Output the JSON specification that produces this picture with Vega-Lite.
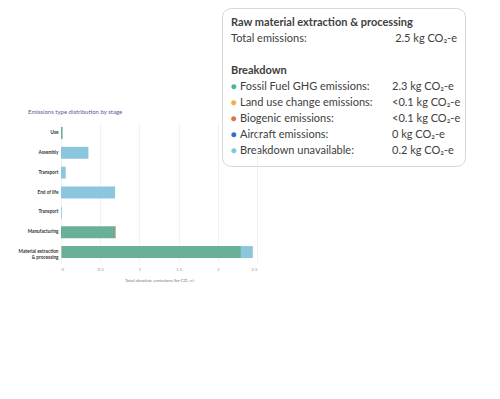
{
  "$schema": "https://vega.github.io/schema/vega-lite/v6.json",
  "background": "white",
  "padding": {"left": 0, "top": 7, "right": 0, "bottom": 0},
  "config": {"view": {"stroke": null}, "font": "Lato"},
  "datasets": {
    "bars": [
      {"stage": "Use", "type": "Fossil Fuel GHG emissions", "kg": 0.02},
      {"stage": "Assembly", "type": "Breakdown unavailable", "kg": 0.35},
      {"stage": "Transport", "type": "Breakdown unavailable", "kg": 0.06},
      {"stage": "End of life", "type": "Breakdown unavailable", "kg": 0.69},
      {"stage": "Transport ", "type": "Breakdown unavailable", "kg": 0.01},
      {"stage": "Manufacturing", "type": "Fossil Fuel GHG emissions", "kg": 0.69},
      {"stage": "Manufacturing", "type": "Biogenic emissions", "kg": 0.01},
      {"stage": "Material extraction & processing", "type": "Fossil Fuel GHG emissions", "kg": 2.29},
      {"stage": "Material extraction & processing", "type": "Land use change emissions", "kg": 0.005},
      {"stage": "Material extraction & processing", "type": "Biogenic emissions", "kg": 0.005},
      {"stage": "Material extraction & processing", "type": "Breakdown unavailable", "kg": 0.15}
    ],
    "tip": [
      {"row": 1, "kind": "title", "label": "Raw material extraction & processing"},
      {"row": 2, "kind": "total", "label": "Total emissions:", "value": "2.5 kg CO₂-e"},
      {"row": 4, "kind": "heading", "label": "Breakdown"},
      {"row": 5, "kind": "item", "type": "Fossil Fuel GHG emissions", "label": "Fossil Fuel GHG emissions:", "value": "2.3 kg CO₂-e"},
      {"row": 6, "kind": "item", "type": "Land use change emissions", "label": "Land use change emissions:", "value": "<0.1 kg CO₂-e"},
      {"row": 7, "kind": "item", "type": "Biogenic emissions", "label": "Biogenic emissions:", "value": "<0.1 kg CO₂-e"},
      {"row": 8, "kind": "item", "type": "Aircraft emissions", "label": "Aircraft emissions:", "value": "0 kg CO₂-e"},
      {"row": 9, "kind": "item", "type": "Breakdown unavailable", "label": "Breakdown unavailable:", "value": "0.2 kg CO₂-e"}
    ]
  },
  "resolve": {"scale": {"color": "independent", "x": "independent", "y": "independent"}},
  "align": "none",
  "spacing": -58,
  "vconcat": [
    {
      "spacing": 0,
      "align": "none",
      "hconcat": [
        {
          "width": 160,
          "height": 158,
          "data": {"values": []},
          "mark": "point",
          "encoding": {}
        },
        {
          "width": 243,
          "height": 158,
          "view": {"stroke": "#d6d6d6", "fill": "white", "cornerRadius": 9, "strokeWidth": 1},
          "data": {"name": "tip"},
          "encoding": {
            "y": {"field": "row", "type": "ordinal", "scale": {"type": "point", "domain": [1, 2, 3, 4, 5, 6, 7, 8, 9], "range": [15, 143], "padding": 0}, "axis": null},
            "x": {"datum": "left", "type": "nominal", "scale": {"type": "point", "domain": ["left", "right"], "range": [9, 235], "padding": 0}, "axis": null}
          },
          "layer": [
            {
              "transform": [{"filter": "datum.kind == 'title' || datum.kind == 'heading'"}],
              "mark": {"type": "text", "align": "left", "baseline": "middle", "fontWeight": "bold", "fontSize": 11, "color": "#404040"},
              "encoding": {"text": {"field": "label"}}
            },
            {
              "transform": [{"filter": "datum.kind == 'total'"}],
              "mark": {"type": "text", "align": "left", "baseline": "middle", "fontSize": 11, "color": "#404040"},
              "encoding": {"text": {"field": "label"}}
            },
            {
              "transform": [{"filter": "datum.kind == 'total'"}],
              "mark": {"type": "text", "align": "right", "baseline": "middle", "fontSize": 11, "color": "#404040"},
              "encoding": {"text": {"field": "value"}, "x": {"datum": "right", "type": "nominal"}}
            },
            {
              "transform": [{"filter": "datum.kind == 'item'"}],
              "mark": {"type": "text", "align": "left", "baseline": "middle", "fontSize": 10, "dx": -0.5},
              "encoding": {
                "text": {"value": "●"},
                "color": {"field": "type", "type": "nominal", "legend": null,
                  "scale": {"domain": ["Fossil Fuel GHG emissions", "Land use change emissions", "Biogenic emissions", "Aircraft emissions", "Breakdown unavailable"],
                            "range": ["#4fb39b", "#e9b43c", "#df7443", "#2f6fc6", "#7cc8e4"]}}
              }
            },
            {
              "transform": [{"filter": "datum.kind == 'item'"}],
              "mark": {"type": "text", "align": "left", "baseline": "middle", "fontSize": 11, "dx": 9, "color": "#404040"},
              "encoding": {"text": {"field": "label"}}
            },
            {
              "transform": [{"filter": "datum.kind == 'item'"}],
              "mark": {"type": "text", "align": "left", "baseline": "middle", "fontSize": 11, "dx": -65, "color": "#404040"},
              "encoding": {"text": {"field": "value"}, "x": {"datum": "right", "type": "nominal"}}
            }
          ]
        }
      ]
    },
    {
      "width": 196,
      "height": 139,
      "title": {"text": "Emissions type distribution by stage", "anchor": "start", "frame": "bounds", "dx": 28, "fontSize": 6, "fontWeight": "normal", "color": "#5a5a96", "offset": 8},
      "data": {"name": "bars"},
      "mark": {"type": "bar"},
      "encoding": {
        "y": {
          "field": "stage", "type": "nominal",
          "sort": ["Use", "Assembly", "Transport", "End of life", "Transport ", "Manufacturing", "Material extraction & processing"],
          "scale": {"paddingInner": 0.4, "paddingOuter": 0.2},
          "axis": {"title": null, "ticks": false, "domain": false, "labelFontSize": 4.7, "labelFontWeight": "bold", "labelColor": "#333333", "labelPadding": 3, "minExtent": 61, "maxExtent": 61,
                   "labelExpr": "datum.value == 'Material extraction & processing' ? ['Material extraction', '& processing'] : datum.value", "labelLineHeight": 6}
        },
        "x": {
          "field": "kg", "type": "quantitative", "stack": "zero",
          "scale": {"domain": [0, 2.5], "nice": false},
          "axis": {"values": [0, 0.5, 1, 1.5, 2, 2.5], "format": "~g", "title": "Total absolute emissions (kg CO₂-e)", "titleFontSize": 4.5, "titleFontWeight": "normal", "titleColor": "#777777", "titlePadding": 7,
                   "labelFontSize": 4.5, "labelColor": "#999999", "labelPadding": 4, "ticks": false, "domain": false, "grid": true, "gridColor": "#ececec", "gridWidth": 0.7}
        },
        "color": {"field": "type", "type": "nominal", "legend": null,
          "scale": {"domain": ["Fossil Fuel GHG emissions", "Land use change emissions", "Biogenic emissions", "Aircraft emissions", "Breakdown unavailable"],
                    "range": ["#6aaf97", "#e8b54a", "#e39a5a", "#3a72c4", "#8cc6de"]}},
        "order": {"field": "type", "sort": "descending"}
      }
    }
  ]
}
